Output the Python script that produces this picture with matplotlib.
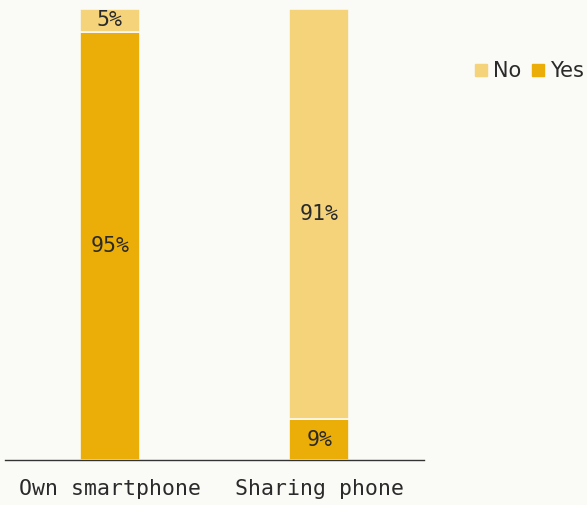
import matplotlib.pyplot as plt
from matplotlib.lines import Line2D

categories = ["Own smartphone", "Sharing phone"]
yes_share = [95, 9]
no_share = [5, 91]

bg = "#fafaf6"
yes_color = "#ebad07"
no_color = "#f4d37a"
text_color = "#2a2a2a"
font = "DejaVu Sans Mono"

fig = plt.figure(figsize=(5.87, 5.05), dpi=100, facecolor=bg)
ax = fig.add_axes([0.0085, 0.089, 0.714, 0.893], facecolor=bg)

x = range(len(categories))
ax.bar(x, yes_share, width=0.285, color=yes_color, edgecolor=bg, linewidth=1.2)
ax.bar(x, no_share, bottom=yes_share, width=0.285, color=no_color, edgecolor=bg, linewidth=1.2)

for i in x:
    ax.text(i, yes_share[i] / 2, f"{yes_share[i]}%", ha="center", va="center",
            fontsize=15.5, family=font, color=text_color)
    ax.text(i, yes_share[i] + no_share[i] / 2, f"{no_share[i]}%", ha="center", va="center",
            fontsize=15.5, family=font, color=text_color)

ax.set_xlim(-0.5, 1.5)
ax.set_ylim(0, 100)
ax.set_xticks(list(x))
ax.set_xticklabels(categories, family=font, fontsize=15.5, color=text_color)
ax.tick_params(axis="x", length=0, pad=14)
ax.set_yticks([])
for side in ["top", "left", "right"]:
    ax.spines[side].set_visible(False)
ax.spines["bottom"].set_color("#333333")
ax.spines["bottom"].set_linewidth(1.0)

handles = [
    Line2D([], [], marker="s", linestyle="none", markersize=8, color=no_color),
    Line2D([], [], marker="s", linestyle="none", markersize=8, color=yes_color),
]
fig.legend(handles, ["No", "Yes"], loc="center left", bbox_to_anchor=(0.808, 0.859),
           ncol=2, frameon=False, handlelength=0.6, handletextpad=0.3,
           columnspacing=0.5, prop={"family": "DejaVu Sans", "size": 15},
           labelcolor=text_color, borderaxespad=0, borderpad=0)

fig.savefig("out.png", dpi=100, facecolor=bg)
